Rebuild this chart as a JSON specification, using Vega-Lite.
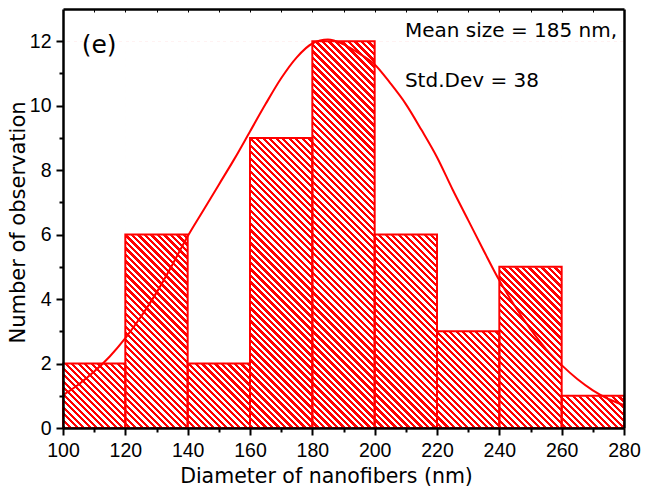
{
"$schema": "https://vega.github.io/schema/vega-lite/v6.json",
"width": 561,
"height": 419,
"autosize": {"type": "none"},
"padding": {"left": 63, "top": 9, "right": 24, "bottom": 62},
"background": "white",
"datasets": {
"hist": [
{"bin_start": 100, "bin_end": 120, "count": 2},
{"bin_start": 120, "bin_end": 140, "count": 6},
{"bin_start": 140, "bin_end": 160, "count": 2},
{"bin_start": 160, "bin_end": 180, "count": 9},
{"bin_start": 180, "bin_end": 200, "count": 12},
{"bin_start": 200, "bin_end": 220, "count": 6},
{"bin_start": 220, "bin_end": 240, "count": 3},
{"bin_start": 240, "bin_end": 260, "count": 5},
{"bin_start": 260, "bin_end": 280, "count": 1}
],
"curve": [
{"d": 100, "n": 1.02}, {"d": 105, "n": 1.35}, {"d": 110, "n": 1.75}, {"d": 115, "n": 2.22},
{"d": 120, "n": 2.79}, {"d": 125, "n": 3.45}, {"d": 130, "n": 4.2}, {"d": 135, "n": 5.05},
{"d": 140, "n": 5.95}, {"d": 145, "n": 6.75}, {"d": 150, "n": 7.55}, {"d": 155, "n": 8.35},
{"d": 160, "n": 9.2}, {"d": 165, "n": 10.05}, {"d": 170, "n": 10.85}, {"d": 175, "n": 11.5},
{"d": 180, "n": 11.93}, {"d": 185, "n": 12.05}, {"d": 190, "n": 11.9}, {"d": 195, "n": 11.62},
{"d": 200, "n": 11.28}, {"d": 205, "n": 10.7}, {"d": 210, "n": 10.05}, {"d": 215, "n": 9.25},
{"d": 220, "n": 8.4}, {"d": 225, "n": 7.4}, {"d": 230, "n": 6.45}, {"d": 235, "n": 5.5},
{"d": 240, "n": 4.58}, {"d": 245, "n": 3.78}, {"d": 250, "n": 3.07}, {"d": 255, "n": 2.45},
{"d": 260, "n": 1.95}, {"d": 265, "n": 1.52}, {"d": 270, "n": 1.17}, {"d": 275, "n": 0.9},
{"d": 280, "n": 0.71}
]
},
"data": {"name": "hist"},
"layer": [
{
"mark": {"type": "rect", "fill": {"gradient": "linear", "x1": 0, "y1": 1, "x2": 1.3106, "y2": 0.0964, "stops": [
{"offset":0,"color":"#f00"},
{"offset":0.003,"color":"#f00"},{"offset":0.003,"color":"#fff"},{"offset":0.006,"color":"#fff"},{"offset":0.006,"color":"#f00"},
{"offset":0.009,"color":"#f00"},{"offset":0.009,"color":"#fff"},{"offset":0.012,"color":"#fff"},{"offset":0.012,"color":"#f00"},
{"offset":0.015,"color":"#f00"},{"offset":0.015,"color":"#fff"},{"offset":0.018,"color":"#fff"},{"offset":0.018,"color":"#f00"},
{"offset":0.021,"color":"#f00"},{"offset":0.021,"color":"#fff"},{"offset":0.024,"color":"#fff"},{"offset":0.024,"color":"#f00"},
{"offset":0.027,"color":"#f00"},{"offset":0.027,"color":"#fff"},{"offset":0.030,"color":"#fff"},{"offset":0.030,"color":"#f00"},
{"offset":0.033,"color":"#f00"},{"offset":0.033,"color":"#fff"},{"offset":0.036,"color":"#fff"},{"offset":0.036,"color":"#f00"},
{"offset":0.039,"color":"#f00"},{"offset":0.039,"color":"#fff"},{"offset":0.042,"color":"#fff"},{"offset":0.042,"color":"#f00"},
{"offset":0.045,"color":"#f00"},{"offset":0.045,"color":"#fff"},{"offset":0.048,"color":"#fff"},{"offset":0.048,"color":"#f00"},
{"offset":0.051,"color":"#f00"},{"offset":0.051,"color":"#fff"},{"offset":0.054,"color":"#fff"},{"offset":0.054,"color":"#f00"},
{"offset":0.057,"color":"#f00"},{"offset":0.057,"color":"#fff"},{"offset":0.060,"color":"#fff"},{"offset":0.060,"color":"#f00"},
{"offset":0.063,"color":"#f00"},{"offset":0.063,"color":"#fff"},{"offset":0.066,"color":"#fff"},{"offset":0.066,"color":"#f00"},
{"offset":0.069,"color":"#f00"},{"offset":0.069,"color":"#fff"},{"offset":0.072,"color":"#fff"},{"offset":0.072,"color":"#f00"},
{"offset":0.075,"color":"#f00"},{"offset":0.075,"color":"#fff"},{"offset":0.078,"color":"#fff"},{"offset":0.078,"color":"#f00"},
{"offset":0.081,"color":"#f00"},{"offset":0.081,"color":"#fff"},{"offset":0.084,"color":"#fff"},{"offset":0.084,"color":"#f00"},
{"offset":0.087,"color":"#f00"},{"offset":0.087,"color":"#fff"},{"offset":0.090,"color":"#fff"},{"offset":0.090,"color":"#f00"},
{"offset":0.093,"color":"#f00"},{"offset":0.093,"color":"#fff"},{"offset":0.096,"color":"#fff"},{"offset":0.096,"color":"#f00"},
{"offset":0.099,"color":"#f00"},{"offset":0.099,"color":"#fff"},{"offset":0.102,"color":"#fff"},{"offset":0.102,"color":"#f00"},
{"offset":0.105,"color":"#f00"},{"offset":0.105,"color":"#fff"},{"offset":0.108,"color":"#fff"},{"offset":0.108,"color":"#f00"},
{"offset":0.111,"color":"#f00"},{"offset":0.111,"color":"#fff"},{"offset":0.114,"color":"#fff"},{"offset":0.114,"color":"#f00"},
{"offset":0.117,"color":"#f00"},{"offset":0.117,"color":"#fff"},{"offset":0.120,"color":"#fff"},{"offset":0.120,"color":"#f00"},
{"offset":0.123,"color":"#f00"},{"offset":0.123,"color":"#fff"},{"offset":0.126,"color":"#fff"},{"offset":0.126,"color":"#f00"},
{"offset":0.129,"color":"#f00"},{"offset":0.129,"color":"#fff"},{"offset":0.132,"color":"#fff"},{"offset":0.132,"color":"#f00"},
{"offset":0.135,"color":"#f00"},{"offset":0.135,"color":"#fff"},{"offset":0.138,"color":"#fff"},{"offset":0.138,"color":"#f00"},
{"offset":0.141,"color":"#f00"},{"offset":0.141,"color":"#fff"},{"offset":0.144,"color":"#fff"},{"offset":0.144,"color":"#f00"},
{"offset":0.147,"color":"#f00"},{"offset":0.147,"color":"#fff"},{"offset":0.150,"color":"#fff"},{"offset":0.150,"color":"#f00"},
{"offset":0.153,"color":"#f00"},{"offset":0.153,"color":"#fff"},{"offset":0.156,"color":"#fff"},{"offset":0.156,"color":"#f00"},
{"offset":0.159,"color":"#f00"},{"offset":0.159,"color":"#fff"},{"offset":0.162,"color":"#fff"},{"offset":0.162,"color":"#f00"},
{"offset":0.165,"color":"#f00"},{"offset":0.165,"color":"#fff"},{"offset":0.168,"color":"#fff"},{"offset":0.168,"color":"#f00"},
{"offset":0.171,"color":"#f00"},{"offset":0.171,"color":"#fff"},{"offset":0.174,"color":"#fff"},{"offset":0.174,"color":"#f00"},
{"offset":0.177,"color":"#f00"},{"offset":0.177,"color":"#fff"},{"offset":0.180,"color":"#fff"},{"offset":0.180,"color":"#f00"},
{"offset":0.183,"color":"#f00"},{"offset":0.183,"color":"#fff"},{"offset":0.186,"color":"#fff"},{"offset":0.186,"color":"#f00"},
{"offset":0.189,"color":"#f00"},{"offset":0.189,"color":"#fff"},{"offset":0.192,"color":"#fff"},{"offset":0.192,"color":"#f00"},
{"offset":0.195,"color":"#f00"},{"offset":0.195,"color":"#fff"},{"offset":0.198,"color":"#fff"},{"offset":0.198,"color":"#f00"},
{"offset":0.201,"color":"#f00"},{"offset":0.201,"color":"#fff"},{"offset":0.204,"color":"#fff"},{"offset":0.204,"color":"#f00"},
{"offset":0.207,"color":"#f00"},{"offset":0.207,"color":"#fff"},{"offset":0.210,"color":"#fff"},{"offset":0.210,"color":"#f00"},
{"offset":0.213,"color":"#f00"},{"offset":0.213,"color":"#fff"},{"offset":0.216,"color":"#fff"},{"offset":0.216,"color":"#f00"},
{"offset":0.219,"color":"#f00"},{"offset":0.219,"color":"#fff"},{"offset":0.222,"color":"#fff"},{"offset":0.222,"color":"#f00"},
{"offset":0.225,"color":"#f00"},{"offset":0.225,"color":"#fff"},{"offset":0.228,"color":"#fff"},{"offset":0.228,"color":"#f00"},
{"offset":0.231,"color":"#f00"},{"offset":0.231,"color":"#fff"},{"offset":0.234,"color":"#fff"},{"offset":0.234,"color":"#f00"},
{"offset":0.237,"color":"#f00"},{"offset":0.237,"color":"#fff"},{"offset":0.240,"color":"#fff"},{"offset":0.240,"color":"#f00"},
{"offset":0.243,"color":"#f00"},{"offset":0.243,"color":"#fff"},{"offset":0.246,"color":"#fff"},{"offset":0.246,"color":"#f00"},
{"offset":0.249,"color":"#f00"},{"offset":0.249,"color":"#fff"},{"offset":0.252,"color":"#fff"},{"offset":0.252,"color":"#f00"},
{"offset":0.255,"color":"#f00"},{"offset":0.255,"color":"#fff"},{"offset":0.258,"color":"#fff"},{"offset":0.258,"color":"#f00"},
{"offset":0.261,"color":"#f00"},{"offset":0.261,"color":"#fff"},{"offset":0.264,"color":"#fff"},{"offset":0.264,"color":"#f00"},
{"offset":0.267,"color":"#f00"},{"offset":0.267,"color":"#fff"},{"offset":0.270,"color":"#fff"},{"offset":0.270,"color":"#f00"},
{"offset":0.273,"color":"#f00"},{"offset":0.273,"color":"#fff"},{"offset":0.276,"color":"#fff"},{"offset":0.276,"color":"#f00"},
{"offset":0.279,"color":"#f00"},{"offset":0.279,"color":"#fff"},{"offset":0.282,"color":"#fff"},{"offset":0.282,"color":"#f00"},
{"offset":0.285,"color":"#f00"},{"offset":0.285,"color":"#fff"},{"offset":0.288,"color":"#fff"},{"offset":0.288,"color":"#f00"},
{"offset":0.291,"color":"#f00"},{"offset":0.291,"color":"#fff"},{"offset":0.294,"color":"#fff"},{"offset":0.294,"color":"#f00"},
{"offset":0.297,"color":"#f00"},{"offset":0.297,"color":"#fff"},{"offset":0.300,"color":"#fff"},{"offset":0.300,"color":"#f00"},
{"offset":0.303,"color":"#f00"},{"offset":0.303,"color":"#fff"},{"offset":0.306,"color":"#fff"},{"offset":0.306,"color":"#f00"},
{"offset":0.309,"color":"#f00"},{"offset":0.309,"color":"#fff"},{"offset":0.312,"color":"#fff"},{"offset":0.312,"color":"#f00"},
{"offset":0.315,"color":"#f00"},{"offset":0.315,"color":"#fff"},{"offset":0.318,"color":"#fff"},{"offset":0.318,"color":"#f00"},
{"offset":0.321,"color":"#f00"},{"offset":0.321,"color":"#fff"},{"offset":0.324,"color":"#fff"},{"offset":0.324,"color":"#f00"},
{"offset":0.327,"color":"#f00"},{"offset":0.327,"color":"#fff"},{"offset":0.330,"color":"#fff"},{"offset":0.330,"color":"#f00"},
{"offset":0.333,"color":"#f00"},{"offset":0.333,"color":"#fff"},{"offset":0.336,"color":"#fff"},{"offset":0.336,"color":"#f00"},
{"offset":0.339,"color":"#f00"},{"offset":0.339,"color":"#fff"},{"offset":0.342,"color":"#fff"},{"offset":0.342,"color":"#f00"},
{"offset":0.345,"color":"#f00"},{"offset":0.345,"color":"#fff"},{"offset":0.348,"color":"#fff"},{"offset":0.348,"color":"#f00"},
{"offset":0.351,"color":"#f00"},{"offset":0.351,"color":"#fff"},{"offset":0.354,"color":"#fff"},{"offset":0.354,"color":"#f00"},
{"offset":0.357,"color":"#f00"},{"offset":0.357,"color":"#fff"},{"offset":0.360,"color":"#fff"},{"offset":0.360,"color":"#f00"},
{"offset":0.363,"color":"#f00"},{"offset":0.363,"color":"#fff"},{"offset":0.366,"color":"#fff"},{"offset":0.366,"color":"#f00"},
{"offset":0.369,"color":"#f00"},{"offset":0.369,"color":"#fff"},{"offset":0.372,"color":"#fff"},{"offset":0.372,"color":"#f00"},
{"offset":0.375,"color":"#f00"},{"offset":0.375,"color":"#fff"},{"offset":0.378,"color":"#fff"},{"offset":0.378,"color":"#f00"},
{"offset":0.381,"color":"#f00"},{"offset":0.381,"color":"#fff"},{"offset":0.384,"color":"#fff"},{"offset":0.384,"color":"#f00"},
{"offset":0.387,"color":"#f00"},{"offset":0.387,"color":"#fff"},{"offset":0.390,"color":"#fff"},{"offset":0.390,"color":"#f00"},
{"offset":0.393,"color":"#f00"},{"offset":0.393,"color":"#fff"},{"offset":0.396,"color":"#fff"},{"offset":0.396,"color":"#f00"},
{"offset":0.399,"color":"#f00"},{"offset":0.399,"color":"#fff"},{"offset":0.402,"color":"#fff"},{"offset":0.402,"color":"#f00"},
{"offset":0.405,"color":"#f00"},{"offset":0.405,"color":"#fff"},{"offset":0.408,"color":"#fff"},{"offset":0.408,"color":"#f00"},
{"offset":0.411,"color":"#f00"},{"offset":0.411,"color":"#fff"},{"offset":0.414,"color":"#fff"},{"offset":0.414,"color":"#f00"},
{"offset":0.417,"color":"#f00"},{"offset":0.417,"color":"#fff"},{"offset":0.420,"color":"#fff"},{"offset":0.420,"color":"#f00"},
{"offset":0.423,"color":"#f00"},{"offset":0.423,"color":"#fff"},{"offset":0.426,"color":"#fff"},{"offset":0.426,"color":"#f00"},
{"offset":0.429,"color":"#f00"},{"offset":0.429,"color":"#fff"},{"offset":0.432,"color":"#fff"},{"offset":0.432,"color":"#f00"},
{"offset":0.435,"color":"#f00"},{"offset":0.435,"color":"#fff"},{"offset":0.438,"color":"#fff"},{"offset":0.438,"color":"#f00"},
{"offset":0.441,"color":"#f00"},{"offset":0.441,"color":"#fff"},{"offset":0.444,"color":"#fff"},{"offset":0.444,"color":"#f00"},
{"offset":0.447,"color":"#f00"},{"offset":0.447,"color":"#fff"},{"offset":0.450,"color":"#fff"},{"offset":0.450,"color":"#f00"},
{"offset":0.453,"color":"#f00"},{"offset":0.453,"color":"#fff"},{"offset":0.456,"color":"#fff"},{"offset":0.456,"color":"#f00"},
{"offset":0.459,"color":"#f00"},{"offset":0.459,"color":"#fff"},{"offset":0.462,"color":"#fff"},{"offset":0.462,"color":"#f00"},
{"offset":0.465,"color":"#f00"},{"offset":0.465,"color":"#fff"},{"offset":0.468,"color":"#fff"},{"offset":0.468,"color":"#f00"},
{"offset":0.471,"color":"#f00"},{"offset":0.471,"color":"#fff"},{"offset":0.474,"color":"#fff"},{"offset":0.474,"color":"#f00"},
{"offset":0.477,"color":"#f00"},{"offset":0.477,"color":"#fff"},{"offset":0.480,"color":"#fff"},{"offset":0.480,"color":"#f00"},
{"offset":0.483,"color":"#f00"},{"offset":0.483,"color":"#fff"},{"offset":0.486,"color":"#fff"},{"offset":0.486,"color":"#f00"},
{"offset":0.489,"color":"#f00"},{"offset":0.489,"color":"#fff"},{"offset":0.492,"color":"#fff"},{"offset":0.492,"color":"#f00"},
{"offset":0.495,"color":"#f00"},{"offset":0.495,"color":"#fff"},{"offset":0.498,"color":"#fff"},{"offset":0.498,"color":"#f00"},
{"offset":0.501,"color":"#f00"},{"offset":0.501,"color":"#fff"},{"offset":0.504,"color":"#fff"},{"offset":0.504,"color":"#f00"},
{"offset":0.507,"color":"#f00"},{"offset":0.507,"color":"#fff"},{"offset":0.510,"color":"#fff"},{"offset":0.510,"color":"#f00"},
{"offset":0.513,"color":"#f00"},{"offset":0.513,"color":"#fff"},{"offset":0.516,"color":"#fff"},{"offset":0.516,"color":"#f00"},
{"offset":0.519,"color":"#f00"},{"offset":0.519,"color":"#fff"},{"offset":0.522,"color":"#fff"},{"offset":0.522,"color":"#f00"},
{"offset":0.525,"color":"#f00"},{"offset":0.525,"color":"#fff"},{"offset":0.528,"color":"#fff"},{"offset":0.528,"color":"#f00"},
{"offset":0.531,"color":"#f00"},{"offset":0.531,"color":"#fff"},{"offset":0.534,"color":"#fff"},{"offset":0.534,"color":"#f00"},
{"offset":0.537,"color":"#f00"},{"offset":0.537,"color":"#fff"},{"offset":0.540,"color":"#fff"},{"offset":0.540,"color":"#f00"},
{"offset":0.543,"color":"#f00"},{"offset":0.543,"color":"#fff"},{"offset":0.546,"color":"#fff"},{"offset":0.546,"color":"#f00"},
{"offset":0.549,"color":"#f00"},{"offset":0.549,"color":"#fff"},{"offset":0.552,"color":"#fff"},{"offset":0.552,"color":"#f00"},
{"offset":0.555,"color":"#f00"},{"offset":0.555,"color":"#fff"},{"offset":0.558,"color":"#fff"},{"offset":0.558,"color":"#f00"},
{"offset":0.561,"color":"#f00"},{"offset":0.561,"color":"#fff"},{"offset":0.564,"color":"#fff"},{"offset":0.564,"color":"#f00"},
{"offset":0.567,"color":"#f00"},{"offset":0.567,"color":"#fff"},{"offset":0.570,"color":"#fff"},{"offset":0.570,"color":"#f00"},
{"offset":0.573,"color":"#f00"},{"offset":0.573,"color":"#fff"},{"offset":0.576,"color":"#fff"},{"offset":0.576,"color":"#f00"},
{"offset":0.579,"color":"#f00"},{"offset":0.579,"color":"#fff"},{"offset":0.582,"color":"#fff"},{"offset":0.582,"color":"#f00"},
{"offset":0.585,"color":"#f00"},{"offset":0.585,"color":"#fff"},{"offset":0.588,"color":"#fff"},{"offset":0.588,"color":"#f00"},
{"offset":0.591,"color":"#f00"},{"offset":0.591,"color":"#fff"},{"offset":0.594,"color":"#fff"},{"offset":0.594,"color":"#f00"},
{"offset":0.597,"color":"#f00"},{"offset":0.597,"color":"#fff"},{"offset":0.600,"color":"#fff"},{"offset":0.600,"color":"#f00"},
{"offset":0.603,"color":"#f00"},{"offset":0.603,"color":"#fff"},{"offset":0.606,"color":"#fff"},{"offset":0.606,"color":"#f00"},
{"offset":0.609,"color":"#f00"},{"offset":0.609,"color":"#fff"},{"offset":0.612,"color":"#fff"},{"offset":0.612,"color":"#f00"},
{"offset":0.615,"color":"#f00"},{"offset":0.615,"color":"#fff"},{"offset":0.618,"color":"#fff"},{"offset":0.618,"color":"#f00"},
{"offset":0.621,"color":"#f00"},{"offset":0.621,"color":"#fff"},{"offset":0.624,"color":"#fff"},{"offset":0.624,"color":"#f00"},
{"offset":0.627,"color":"#f00"},{"offset":0.627,"color":"#fff"},{"offset":0.630,"color":"#fff"},{"offset":0.630,"color":"#f00"},
{"offset":0.633,"color":"#f00"},{"offset":0.633,"color":"#fff"},{"offset":0.636,"color":"#fff"},{"offset":0.636,"color":"#f00"},
{"offset":0.639,"color":"#f00"},{"offset":0.639,"color":"#fff"},{"offset":0.642,"color":"#fff"},{"offset":0.642,"color":"#f00"},
{"offset":0.645,"color":"#f00"},{"offset":0.645,"color":"#fff"},{"offset":0.648,"color":"#fff"},{"offset":0.648,"color":"#f00"},
{"offset":0.651,"color":"#f00"},{"offset":0.651,"color":"#fff"},{"offset":0.654,"color":"#fff"},{"offset":0.654,"color":"#f00"},
{"offset":0.657,"color":"#f00"},{"offset":0.657,"color":"#fff"},{"offset":0.660,"color":"#fff"},{"offset":0.660,"color":"#f00"},
{"offset":0.663,"color":"#f00"},{"offset":0.663,"color":"#fff"},{"offset":0.666,"color":"#fff"},{"offset":0.666,"color":"#f00"},
{"offset":0.669,"color":"#f00"},{"offset":0.669,"color":"#fff"},{"offset":0.672,"color":"#fff"},{"offset":0.672,"color":"#f00"},
{"offset":0.675,"color":"#f00"},{"offset":0.675,"color":"#fff"},{"offset":0.678,"color":"#fff"},{"offset":0.678,"color":"#f00"},
{"offset":0.681,"color":"#f00"},{"offset":0.681,"color":"#fff"},{"offset":0.684,"color":"#fff"},{"offset":0.684,"color":"#f00"},
{"offset":0.687,"color":"#f00"},{"offset":0.687,"color":"#fff"},{"offset":0.690,"color":"#fff"},{"offset":0.690,"color":"#f00"},
{"offset":0.693,"color":"#f00"},{"offset":0.693,"color":"#fff"},{"offset":0.696,"color":"#fff"},{"offset":0.696,"color":"#f00"},
{"offset":0.699,"color":"#f00"},{"offset":0.699,"color":"#fff"},{"offset":0.702,"color":"#fff"},{"offset":0.702,"color":"#f00"},
{"offset":0.705,"color":"#f00"},{"offset":0.705,"color":"#fff"},{"offset":0.708,"color":"#fff"},{"offset":0.708,"color":"#f00"},
{"offset":0.711,"color":"#f00"},{"offset":0.711,"color":"#fff"},{"offset":0.714,"color":"#fff"},{"offset":0.714,"color":"#f00"},
{"offset":0.717,"color":"#f00"},{"offset":0.717,"color":"#fff"},{"offset":0.720,"color":"#fff"},{"offset":0.720,"color":"#f00"},
{"offset":0.723,"color":"#f00"},{"offset":0.723,"color":"#fff"},{"offset":0.726,"color":"#fff"},{"offset":0.726,"color":"#f00"},
{"offset":0.729,"color":"#f00"},{"offset":0.729,"color":"#fff"},{"offset":0.732,"color":"#fff"},{"offset":0.732,"color":"#f00"},
{"offset":0.735,"color":"#f00"},{"offset":0.735,"color":"#fff"},{"offset":0.738,"color":"#fff"},{"offset":0.738,"color":"#f00"},
{"offset":0.741,"color":"#f00"},{"offset":0.741,"color":"#fff"},{"offset":0.744,"color":"#fff"},{"offset":0.744,"color":"#f00"},
{"offset":0.747,"color":"#f00"},{"offset":0.747,"color":"#fff"},{"offset":0.750,"color":"#fff"},{"offset":0.750,"color":"#f00"},
{"offset":0.753,"color":"#f00"},{"offset":0.753,"color":"#fff"},{"offset":0.756,"color":"#fff"},{"offset":0.756,"color":"#f00"},
{"offset":0.759,"color":"#f00"},{"offset":0.759,"color":"#fff"},{"offset":0.762,"color":"#fff"},{"offset":0.762,"color":"#f00"},
{"offset":0.765,"color":"#f00"},{"offset":0.765,"color":"#fff"},{"offset":0.768,"color":"#fff"},{"offset":0.768,"color":"#f00"},
{"offset":0.771,"color":"#f00"},{"offset":0.771,"color":"#fff"},{"offset":0.774,"color":"#fff"},{"offset":0.774,"color":"#f00"},
{"offset":0.777,"color":"#f00"},{"offset":0.777,"color":"#fff"},{"offset":0.780,"color":"#fff"},{"offset":0.780,"color":"#f00"},
{"offset":0.783,"color":"#f00"},{"offset":0.783,"color":"#fff"},{"offset":0.786,"color":"#fff"},{"offset":0.786,"color":"#f00"},
{"offset":0.789,"color":"#f00"},{"offset":0.789,"color":"#fff"},{"offset":0.792,"color":"#fff"},{"offset":0.792,"color":"#f00"},
{"offset":0.795,"color":"#f00"},{"offset":0.795,"color":"#fff"},{"offset":0.798,"color":"#fff"},{"offset":0.798,"color":"#f00"},
{"offset":0.801,"color":"#f00"},{"offset":0.801,"color":"#fff"},{"offset":0.804,"color":"#fff"},{"offset":0.804,"color":"#f00"},
{"offset":0.807,"color":"#f00"},{"offset":0.807,"color":"#fff"},{"offset":0.810,"color":"#fff"},{"offset":0.810,"color":"#f00"},
{"offset":0.813,"color":"#f00"},{"offset":0.813,"color":"#fff"},{"offset":0.816,"color":"#fff"},{"offset":0.816,"color":"#f00"},
{"offset":0.819,"color":"#f00"},{"offset":0.819,"color":"#fff"},{"offset":0.822,"color":"#fff"},{"offset":0.822,"color":"#f00"},
{"offset":0.825,"color":"#f00"},{"offset":0.825,"color":"#fff"},{"offset":0.828,"color":"#fff"},{"offset":0.828,"color":"#f00"},
{"offset":0.831,"color":"#f00"},{"offset":0.831,"color":"#fff"},{"offset":0.834,"color":"#fff"},{"offset":0.834,"color":"#f00"},
{"offset":0.837,"color":"#f00"},{"offset":0.837,"color":"#fff"},{"offset":0.840,"color":"#fff"},{"offset":0.840,"color":"#f00"},
{"offset":0.843,"color":"#f00"},{"offset":0.843,"color":"#fff"},{"offset":0.846,"color":"#fff"},{"offset":0.846,"color":"#f00"},
{"offset":0.849,"color":"#f00"},{"offset":0.849,"color":"#fff"},{"offset":0.852,"color":"#fff"},{"offset":0.852,"color":"#f00"},
{"offset":0.855,"color":"#f00"},{"offset":0.855,"color":"#fff"},{"offset":0.858,"color":"#fff"},{"offset":0.858,"color":"#f00"},
{"offset":0.861,"color":"#f00"},{"offset":0.861,"color":"#fff"},{"offset":0.864,"color":"#fff"},{"offset":0.864,"color":"#f00"},
{"offset":0.867,"color":"#f00"},{"offset":0.867,"color":"#fff"},{"offset":0.870,"color":"#fff"},{"offset":0.870,"color":"#f00"},
{"offset":0.873,"color":"#f00"},{"offset":0.873,"color":"#fff"},{"offset":0.876,"color":"#fff"},{"offset":0.876,"color":"#f00"},
{"offset":0.879,"color":"#f00"}
]}},
"encoding": {
"x": {"aggregate": "min", "field": "bin_start", "type": "quantitative",
"scale": {"domain": [100, 280], "nice": false, "zero": false},
"axis": {"orient": "bottom", "zindex": 1,
"values": [100,110,120,130,140,150,160,170,180,190,200,210,220,230,240,250,260,270,280],
"tickSize": {"condition": {"test": "datum.value % 20 === 0", "value": 7}, "value": 4},
"labelExpr": "datum.value % 20 === 0 ? datum.label : ''",
"labelPadding": 6,
"title": "Diameter of nanofibers (nm)", "titleX": 263, "titleY": 54,
"titleFontSize": 20.5,
"titleBaseline": "alphabetic", "titleAlign": "center"}},
"x2": {"aggregate": "max", "field": "bin_end"},
"y": {"aggregate": "max", "field": "count", "type": "quantitative",
"scale": {"domain": [0, 13], "nice": false, "zero": true},
"axis": {"orient": "left", "zindex": 1,
"values": [0,1,2,3,4,5,6,7,8,9,10,11,12],
"tickSize": {"condition": {"test": "datum.value % 2 === 0", "value": 7}, "value": 4},
"labelExpr": "datum.value % 2 === 0 ? datum.label : ''",
"labelPadding": 5,
"title": "Number of observation", "titleX": -39, "titleY": 213,
"titleBaseline": "alphabetic", "titleAlign": "center", "titleAngle": 270}},
"y2": {"datum": 0}
}
},
{
"mark": {"type": "rect", "fill": "#ffffff", "stroke": "#ffffff", "strokeWidth": 1},
"encoding": {
"x": {"field": "bin_start", "type": "quantitative", "axis": null},
"x2": {"field": "bin_end"},
"y": {"field": "count", "type": "quantitative", "axis": null},
"y2": {"datum": 12}
}
},
{
"mark": {"type": "rect", "fill": null, "fillOpacity": 0, "stroke": "#ff0000", "strokeWidth": 2},
"encoding": {
"x": {"field": "bin_start", "type": "quantitative",
"axis": {"orient": "top", "zindex": 1, "values": [110,120,130,140,150,160,170,180,190,200,210,220,230,240,250,260,270],
"tickSize": -3, "tickWidth": 1, "labels": false, "title": null}},
"x2": {"field": "bin_end"},
"y": {"field": "count", "type": "quantitative",
"axis": {"orient": "right", "zindex": 1, "ticks": false, "labels": false, "title": null}},
"y2": {"datum": 0}
}
},
{
"data": {"name": "curve"},
"mark": {"type": "line", "color": "#ff0000", "strokeWidth": 2, "interpolate": "monotone"},
"encoding": {
"x": {"field": "d", "type": "quantitative", "axis": null},
"y": {"field": "n", "type": "quantitative", "axis": null}
}
},
{
"data": {"values": [{}]},
"mark": {"type": "text", "text": "(e)", "font": "DejaVu Sans", "fontSize": 25, "align": "left", "baseline": "alphabetic", "color": "#000000"},
"encoding": {
"x": {"datum": 106, "type": "quantitative", "axis": null},
"y": {"datum": 11.63, "type": "quantitative", "axis": null}
}
},
{
"data": {"values": [{}]},
"mark": {"type": "text", "text": "Mean size = 185 nm,", "font": "DejaVu Sans", "fontSize": 20, "align": "left", "baseline": "alphabetic", "color": "#000000"},
"encoding": {
"x": {"datum": 209.7, "type": "quantitative", "axis": null},
"y": {"datum": 12.12, "type": "quantitative", "axis": null}
}
},
{
"data": {"values": [{}]},
"mark": {"type": "text", "text": "Std.Dev = 38", "font": "DejaVu Sans", "fontSize": 20, "align": "left", "baseline": "alphabetic", "color": "#000000"},
"encoding": {
"x": {"datum": 209.7, "type": "quantitative", "axis": null},
"y": {"datum": 10.57, "type": "quantitative", "axis": null}
}
}
],
"resolve": {"axis": {"x": "independent", "y": "independent"}},
"config": {
"view": {"stroke": null},
"axis": {
"grid": false,
"domainColor": "#000000", "domainWidth": 2.5,
"tickColor": "#000000", "tickWidth": 2,
"labelFont": "Liberation Sans", "labelFontSize": 19.5, "labelColor": "#000000",
"labelFlush": false, "labelOverlap": false, "labelBound": false,
"titleFont": "DejaVu Sans", "titleFontSize": 21, "titleFontWeight": "normal", "titleColor": "#000000"
}
}
}
